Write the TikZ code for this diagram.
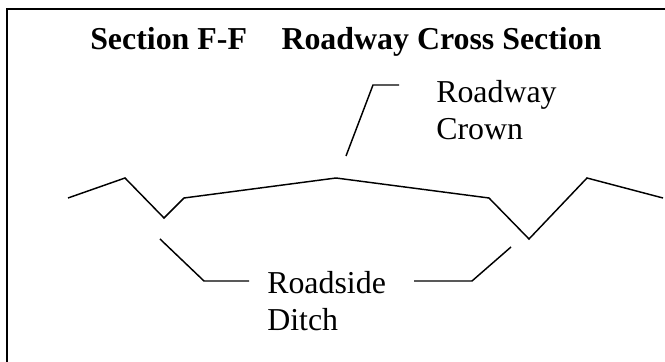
\documentclass[tikz,border=0pt]{standalone}
\usepackage{fontspec}
\setmainfont{Liberation Serif}
\tikzset{lin/.style={draw=black,line width=1.1pt,line join=miter},
frame/.style={draw=black,line width=1.5pt},
lab/.style={font=\fontsize{24pt}{28.2pt}\selectfont,align=left,anchor=base west,inner sep=0pt},
ttl/.style={font=\fontsize{24pt}{28pt}\selectfont\bfseries,anchor=base west,inner sep=0pt}}
\begin{document}
\begin{tikzpicture}[x=0.0264583cm,y=-0.0264583cm]
\useasboundingbox (0,0) rectangle (665,362);
\coordinate (fb) at (7,362); \coordinate (fc) at (7,9); \coordinate (fr) at (665,9);
\draw[frame] (fb) -- (fc) -- (fr);
\node[ttl] (title) at (90,50) {Section F-F\hspace{26pt}Roadway Cross Section};
\node[lab] (crown) at (436,139.5) {Roadway\\Crown};
\node[lab] (ditch) at (267,331) {Roadside\\Ditch};
\draw[lin] (68,198) -- (125,178) -- (164,218) -- (184,198) -- (336,178) -- (489,198) -- (529,239) -- (587,178) -- (663,198);
\coordinate (c1) at (346,156); \coordinate (c2) at (373,85); \coordinate (c3) at (399,85);
\draw[lin] (c1) -- (c2) -- (c3);
\coordinate (d1) at (160,239); \coordinate (d2) at (204,281); \coordinate (d3) at (249,281);
\draw[lin] (d1) -- (d2) -- (d3);
\coordinate (e1) at (414,281); \coordinate (e2) at (472,281); \coordinate (e3) at (511,247);
\draw[lin] (e1) -- (e2) -- (e3);
\end{tikzpicture}
\end{document}
